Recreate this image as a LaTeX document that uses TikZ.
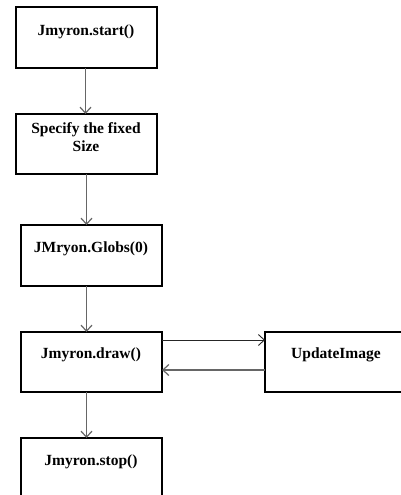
\documentclass[tikz,border=0pt]{standalone}
\usepackage{fontspec}
\setmainfont{Liberation Serif}
\usetikzlibrary{arrows.meta}
\begin{document}
\begin{tikzpicture}[x=1pt,y=-1pt,
  box/.style={draw=black,line width=2.6pt,fill=white,rectangle,inner sep=0pt,outer sep=0pt,anchor=north west,minimum width=141pt,minimum height=61pt},
  lbl/.style={font=\bfseries\fontsize{15.5}{18}\selectfont,align=center,inner sep=0pt,anchor=center},
  conn/.style={draw=black!60,line width=1.4pt,-{Straight Barb[length=6pt,width=11pt,line width=1.2pt]}},
  connk/.style={draw=black!85,line width=0.9pt,-{Straight Barb[length=6pt,width=11pt,line width=0.9pt]}}]
\useasboundingbox (0,0) rectangle (401,495);
\clip (0,0) rectangle (401,495);
% boxes
\node[box] (b1) at (16,7) {};
\node[box,minimum height=60pt] (b2) at (16,114) {};
\node[box] (b3) at (21,225) {};
\node[box,minimum height=60pt] (b4) at (21,332) {};
\node[box,minimum height=80pt] (b5) at (21,438) {};
\node[box,minimum width=160pt,minimum height=60pt] (b6) at (265,332) {};
% labels
\node[lbl] (t1) at (86,32) {Jmyron.start()};
\node[lbl] (t2) at (86,137) {Specify the fixed\\Size};
\node[lbl] (t3) at (91,249) {JMryon.Globs(0)};
\node[lbl] (t4) at (91,355) {Jmyron.draw()};
\node[lbl] (t5) at (91,462) {Jmyron.stop()};
\node[lbl] (t6) at (336,355) {UpdateImage};
% connectors
\draw[conn] ([xshift=-1pt]b1.south) -- ([xshift=-1pt]b2.north);
\draw[conn] (b2.south) -- ([xshift=-5pt]b3.north);
\draw[conn] ([xshift=-5pt]b3.south) -- ([xshift=-5pt]b4.north);
\draw[conn] ([xshift=-5pt]b4.south) -- ([xshift=-5pt]b5.north);
\draw[connk] ([yshift=-8pt]b4.north east) -- ([yshift=-8pt]b6.north west);
\draw[conn] ([yshift=-38pt]b6.north west) -- ([yshift=-38pt]b4.north east);
\end{tikzpicture}
\end{document}
